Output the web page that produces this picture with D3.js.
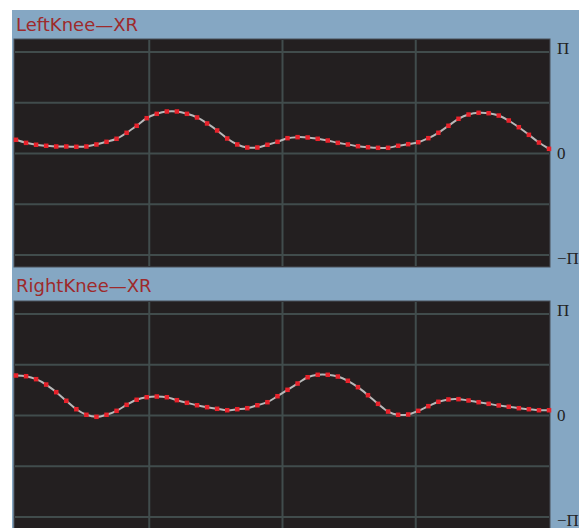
<!DOCTYPE html>
<html lang="en">
<head>
<meta charset="UTF-8">
<title>Knee XR</title>
<script src="https://d3js.org/d3.v7.min.js"></script>
<style>
  body { margin: 0; background: #fff; }
  svg { display: block; }
</style>
</head>
<body>
<div id="chart-container"></div>
<script>
// joint angle per frame, in units of pi
const leftKnee = [0.135, 0.105, 0.086, 0.076, 0.069, 0.069, 0.066, 0.069, 0.089, 0.115,
  0.145, 0.204, 0.273, 0.348, 0.391, 0.414, 0.414, 0.391, 0.355, 0.296,
  0.227, 0.148, 0.089, 0.059, 0.059, 0.086, 0.115, 0.151, 0.161, 0.158,
  0.145, 0.128, 0.105, 0.089, 0.072, 0.062, 0.056, 0.056, 0.076, 0.092,
  0.111, 0.151, 0.204, 0.273, 0.342, 0.384, 0.401, 0.397, 0.374, 0.325,
  0.259, 0.184, 0.108, 0.046];
const rightKnee = [0.394, 0.387, 0.358, 0.305, 0.230, 0.145, 0.062, 0.007, -0.013, 0.007,
  0.046, 0.105, 0.155, 0.180, 0.187, 0.180, 0.151, 0.125, 0.101, 0.082,
  0.066, 0.052, 0.062, 0.072, 0.101, 0.131, 0.190, 0.253, 0.315, 0.377,
  0.401, 0.401, 0.384, 0.342, 0.279, 0.200, 0.115, 0.039, 0.007, 0.010,
  0.046, 0.092, 0.135, 0.158, 0.161, 0.148, 0.131, 0.115, 0.099, 0.086,
  0.072, 0.062, 0.052, 0.052];
const titles = ["LeftKnee\u2014XR", "RightKnee\u2014XR"];
const yTicks = [1, 0, -1];
const yTickLabels = ["\u03A0", "0", "\u2212\u03A0"];
const yGrid = [1, 0.5, 0, -0.5, -1];
const xGrid = [1, 2, 3];

const W = 579, H = 528;
const svg = d3.select("#chart-container").append("svg")
  .attr("width", W).attr("height", H);

svg.append("rect").attr("x", 12).attr("y", 10)
  .attr("width", W - 12).attr("height", H - 10)
  .attr("fill", "#85a7c3");

const plotLeft = 14, plotRight = 550, plotH = 228;
const panels = [
  { title: titles[0], values: leftKnee, top: 39, titleY: 31 },
  { title: titles[1], values: rightKnee, top: 301, titleY: 292 }
];

panels.forEach(p => {
  const x = d3.scaleLinear().domain([0, p.values.length - 1]).range([16, 549]);
  const gx = d3.scaleLinear().domain([0, 4]).range([16, 549]);
  const y = d3.scaleLinear().domain([-1, 1]).range([p.top + 216, p.top + 13]);
  const labelY = d3.scaleLinear().domain([1, -1]).range([p.top + 15, p.top + 225]);

  svg.append("text")
    .attr("x", 16).attr("y", p.titleY)
    .attr("font-family", "DejaVu Sans, sans-serif")
    .attr("font-size", 18)
    .attr("fill", "#9e2a2b")
    .text(p.title);

  const g = svg.append("g");
  g.append("rect")
    .attr("x", plotLeft).attr("y", p.top)
    .attr("width", plotRight - plotLeft).attr("height", plotH)
    .attr("fill", "#231f20")
    .attr("stroke", "#4a5058").attr("stroke-width", 1);

  g.selectAll(".hgrid").data(yGrid).enter().append("line")
    .attr("x1", plotLeft + 1).attr("x2", plotRight - 1)
    .attr("y1", d => y(d)).attr("y2", d => y(d))
    .attr("stroke", "#414c4c").attr("stroke-width", 2);

  g.selectAll(".vgrid").data(xGrid).enter().append("line")
    .attr("x1", d => gx(d)).attr("x2", d => gx(d))
    .attr("y1", p.top + 1).attr("y2", p.top + plotH - 1)
    .attr("stroke", "#414c4c").attr("stroke-width", 2);

  const line = d3.line()
    .x((d, i) => x(i))
    .y(d => y(d))
    .curve(d3.curveCatmullRom);

  g.append("path").datum(p.values)
    .attr("d", line)
    .attr("fill", "none")
    .attr("stroke", "#b9b9b9")
    .attr("stroke-width", 2);

  g.selectAll(".pt").data(p.values).enter().append("rect")
    .attr("x", (d, i) => x(i) - 2.25)
    .attr("y", d => y(d) - 2.25)
    .attr("width", 4.5).attr("height", 4.5)
    .attr("fill", "#e8222b");

  svg.selectAll(null).data(yTicks).enter().append("text")
    .attr("x", 557)
    .attr("y", d => labelY(d))
    .attr("font-family", "Liberation Serif, serif")
    .attr("font-size", 17)
    .attr("fill", "#222")
    .text((d, i) => yTickLabels[i]);
});
</script>
</body>
</html>
